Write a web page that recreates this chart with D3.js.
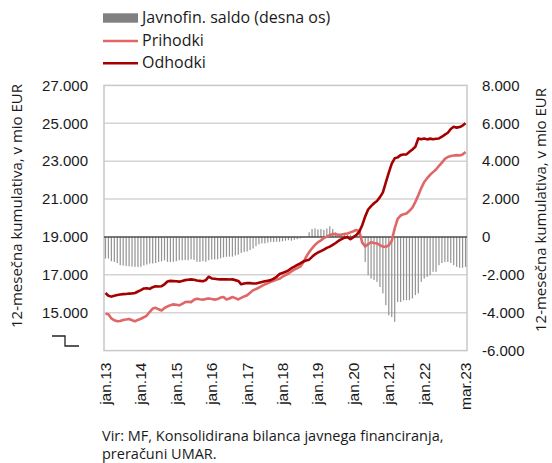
<!DOCTYPE html>
<html lang="sl">
  <head>
    <meta charset="UTF-8" />
    <title>Prihodki in odhodki</title>
    <script src="https://d3js.org/d3.v7.min.js"></script>
    <style>
      body {
        margin: 0;
        background: #ffffff;
      }
      svg {
        font-family: "Open Sans", "Noto Sans", sans-serif;
        font-size: 15px;
        fill: #1a1a1a;
      }
      .tick text {
        fill: #1a1a1a;
        font-size: 15px;
      }
      .xaxis .tick text {
        font-size: 15.5px;
      }
      .legend text {
        font-size: 16px;
      }
      .source {
        font-size: 14.5px;
      }
    </style>
  </head>
  <body>
    <div id="chart"></div>
    <script>
      // 12-month cumulative, mio EUR, monthly jan.13 - mar.23
      const odhodki = [
        16040, 15900, 15850, 15900, 15930, 15960, 15980, 15990, 16010, 16020, 16040, 16120,
        16190, 16280, 16290, 16260, 16350, 16400, 16380, 16400, 16500, 16650, 16680, 16670,
        16660, 16640, 16680, 16720, 16740, 16760, 16740, 16700, 16680, 16660, 16720, 16900,
        16810, 16790, 16770, 16760, 16760, 16770, 16750, 16760, 16720, 16680, 16500, 16540,
        16570, 16560, 16540, 16540, 16580, 16620, 16660, 16690, 16720, 16800, 16900, 17040,
        17100, 17160, 17240, 17350, 17430, 17520, 17600, 17700, 17760, 17800, 17950, 18080,
        18180, 18250, 18330, 18420, 18490, 18580, 18680, 18800, 18880, 18960, 18990, 18880,
        18990, 19100, 19280, 19620, 20080, 20450, 20630, 20780, 20900, 21100, 21350, 21880,
        22400, 22870, 23150, 23200, 23320, 23350, 23360, 23500, 23620, 23760, 24200, 24160,
        24200, 24150, 24190, 24160, 24180, 24200, 24290, 24400, 24500, 24700, 24820, 24770,
        24800, 24880, 25000
      ];
      const prihodki = [
        14950, 14920, 14700, 14600, 14550, 14560, 14620, 14640, 14670, 14600, 14550, 14620,
        14680, 14760, 14850, 15050, 15220, 15260, 15180, 15120, 15250, 15330, 15400, 15440,
        15420, 15390, 15470, 15560, 15580, 15560, 15680, 15740, 15710, 15690, 15730, 15750,
        15720, 15690, 15720, 15800, 15830, 15700, 15750, 15830, 15770, 15700, 15780, 15860,
        15920, 16050, 16180, 16250, 16330, 16420, 16500, 16560, 16630, 16690, 16750, 16790,
        16900, 16990, 17070, 17180, 17270, 17350, 17430, 17650, 17950, 18200, 18400, 18580,
        18720, 18820, 18940, 19020, 19100, 19160, 19140, 19110, 19130, 19160, 19180, 19240,
        19300, 19370, 19300, 18700, 18500, 18620, 18720, 18680, 18660, 18560, 18490, 18480,
        18560, 18800, 19450, 19960, 20130, 20200, 20240, 20380, 20550, 20850, 21200, 21580,
        21900, 22100, 22280, 22420, 22560, 22750, 22920, 23120, 23220, 23270, 23300, 23320,
        23300, 23350, 23480
      ];
      const saldo = [
        -1140, -1140, -1280, -1320, -1380, -1490, -1510, -1540, -1550, -1560, -1580, -1580,
        -1570, -1500, -1460, -1400, -1400, -1380, -1320, -1280, -1230, -1310, -1320, -1310,
        -1280, -1230, -1230, -1220, -1230, -1180, -1210, -1310, -1320, -1280, -1310, -1230,
        -1190, -1190, -1180, -1130, -1080, -1050, -1040, -1040, -980, -940, -840, -790,
        -770, -690, -610, -490, -390, -340, -340, -300, -260, -270, -250, -260,
        -230, -200, -170, -200, -150, -120, -80, -30, 20, 250, 420, 450,
        400, 420, 380, 450, 560, 420, 250, 150, 130, 120, 100, 120,
        80, 150, 100, -50, -1320, -2020, -2200, -2270, -2370, -2640, -2980, -3600,
        -4140, -4230, -4480, -3430, -3430, -3350, -3340, -3340, -3250, -3070, -2980, -2370,
        -2200, -2110, -2020, -1840, -1840, -1490, -1380, -1320, -1320, -1370, -1490, -1580,
        -1630, -1630, -1580
      ];
      const months = d3.range(saldo.length); // 0 = jan.13
      const xTickIdx = [0, 12, 24, 36, 48, 60, 72, 84, 96, 108, 122];
      const xTickLabels = ["jan.13", "jan.14", "jan.15", "jan.16", "jan.17", "jan.18",
        "jan.19", "jan.20", "jan.21", "jan.22", "mar.23"];
      const leftTicks = [15000, 17000, 19000, 21000, 23000, 25000, 27000];
      const rightTicks = [-6000, -4000, -2000, 0, 2000, 4000, 6000, 8000];
      const yTitle = "12-mesečna kumulativa, v mio EUR";

      const W = 552, H = 463;
      const plot = { left: 104, right: 467, top: 85.4, bottom: 350.6 };

      const loc = d3.formatLocale({ decimal: ",", thousands: ".", grouping: [3], currency: ["", " €"], minus: "-" });
      const fmt = loc.format(",");

      const svg = d3.select("#chart").append("svg").attr("width", W).attr("height", H);

      const x = d3.scaleBand().domain(months).range([plot.left, plot.right]).padding(0);
      const yL = d3.scaleLinear().domain([13000, 27000]).range([plot.bottom, plot.top]);
      const yR = d3.scaleLinear().domain([-6000, 8000]).range([plot.bottom, plot.top]);
      const cx = (i) => x(i) + x.bandwidth() / 2;

      // grid
      svg.append("g")
        .selectAll("line")
        .data(rightTicks.filter((d) => d !== 0 && d !== 8000 && d !== -6000))
        .enter()
        .append("line")
        .attr("x1", plot.left).attr("x2", plot.right)
        .attr("y1", (d) => yR(d)).attr("y2", (d) => yR(d))
        .attr("stroke", "#d4d4d4").attr("stroke-width", 1.5);

      // frame
      svg.append("rect")
        .attr("x", plot.left).attr("y", plot.top)
        .attr("width", plot.right - plot.left).attr("height", plot.bottom - plot.top)
        .attr("fill", "none").attr("stroke", "#c8c8c8").attr("stroke-width", 1.5);

      // saldo bars
      const bw = 1.2;
      svg.append("g")
        .selectAll("rect")
        .data(saldo)
        .enter()
        .append("rect")
        .attr("x", (d, i) => cx(i) - bw / 2)
        .attr("width", bw)
        .attr("y", (d) => Math.min(yR(d), yR(0)))
        .attr("height", (d) => Math.abs(yR(d) - yR(0)))
        .attr("fill", "#939393");

      // zero line
      svg.append("line")
        .attr("x1", plot.left).attr("x2", plot.right)
        .attr("y1", yR(0)).attr("y2", yR(0))
        .attr("stroke", "#4d4d4d").attr("stroke-width", 1.5);

      const line = d3.line().x((d, i) => cx(i)).y((d) => yL(d)).curve(d3.curveLinear);

      svg.append("path").datum(prihodki).attr("d", line)
        .attr("fill", "none").attr("stroke", "#e06767").attr("stroke-width", 2.6)
        .attr("stroke-linejoin", "round");
      svg.append("path").datum(odhodki).attr("d", line)
        .attr("fill", "none").attr("stroke", "#a50000").attr("stroke-width", 2.6)
        .attr("stroke-linejoin", "round");

      // axes
      const axL = svg.append("g")
        .attr("transform", `translate(${plot.left},0)`)
        .call(d3.axisLeft(yL).tickValues(leftTicks).tickFormat(fmt).tickSize(0).tickPadding(16));
      axL.select(".domain").remove();

      const axR = svg.append("g")
        .attr("transform", `translate(${plot.right},0)`)
        .call(d3.axisRight(yR).tickValues(rightTicks).tickFormat(fmt).tickSize(0).tickPadding(15));
      axR.select(".domain").remove();

      const axX = svg.append("g")
        .attr("class", "xaxis")
        .attr("transform", `translate(0,${plot.bottom})`)
        .call(d3.axisBottom(x).tickValues(xTickIdx).tickFormat((d) => xTickLabels[xTickIdx.indexOf(d)]).tickSize(0));
      axX.select(".domain").remove();
      axX.selectAll("text")
        .attr("transform", "rotate(-90)")
        .attr("x", -12)
        .attr("y", 0)
        .attr("dy", "0.35em")
        .style("text-anchor", "end");

      // broken axis mark
      svg.append("path")
        .attr("d", "M52,336H65V346H79")
        .attr("fill", "none").attr("stroke", "#222").attr("stroke-width", 1.3);

      // axis titles
      svg.append("text")
        .attr("transform", `translate(22,${(plot.top + plot.bottom) / 2 - 12}) rotate(-90)`)
        .attr("text-anchor", "middle")
        .text(yTitle);
      svg.append("text")
        .attr("transform", `translate(546,${(plot.top + plot.bottom) / 2 - 8}) rotate(-90)`)
        .attr("text-anchor", "middle")
        .text(yTitle);

      // legend
      const legend = svg.append("g").attr("class", "legend");
      legend.append("rect").attr("x", 103).attr("y", 13.3).attr("width", 35).attr("height", 9.4).attr("fill", "#808080");
      legend.append("line").attr("x1", 103).attr("x2", 138).attr("y1", 41).attr("y2", 41)
        .attr("stroke", "#e06767").attr("stroke-width", 2.6);
      legend.append("line").attr("x1", 103).attr("x2", 138).attr("y1", 63.3).attr("y2", 63.3)
        .attr("stroke", "#a50000").attr("stroke-width", 2.6);
      const legendNames = ["Javnofin. saldo (desna os)", "Prihodki", "Odhodki"];
      legend.selectAll("text.lg")
        .data(legendNames)
        .enter()
        .append("text")
        .attr("class", "lg")
        .attr("x", 142)
        .attr("y", (d, i) => 22.7 + i * 22.8)
        .text((d) => d);

      // source
      svg.append("text").attr("class", "source").attr("x", 102).attr("y", 440.5)
        .text("Vir: MF, Konsolidirana bilanca javnega financiranja,");
      svg.append("text").attr("class", "source").attr("x", 102).attr("y", 459)
        .text("preračuni UMAR.");
    </script>
  </body>
</html>
